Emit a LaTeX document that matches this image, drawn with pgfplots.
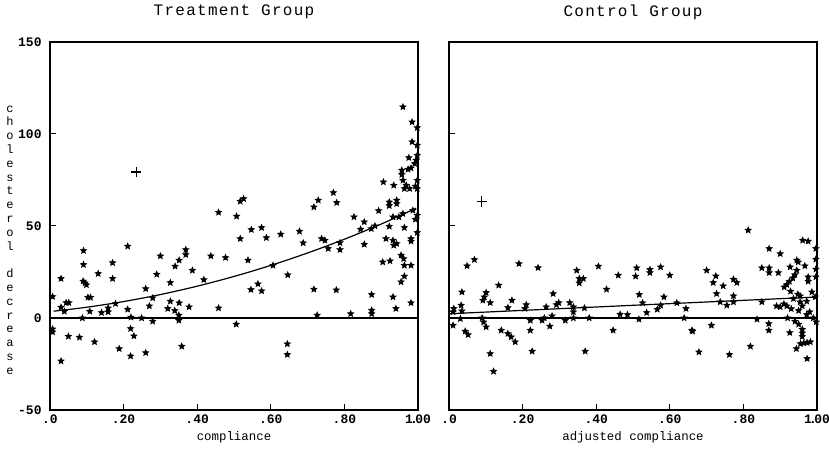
\documentclass[border=0pt]{standalone}
\usepackage{pgfplots}
\pgfplotsset{compat=1.18}
\usepackage{fontspec}
\setmainfont{Liberation Mono}
\newfontfamily\cour{Liberation Mono}
\newfontfamily\courls[LetterSpace=8]{Liberation Mono}
\pgfdeclareplotmark{fstar}{%
  \pgfpathmoveto{\pgfpointpolar{90}{\pgfplotmarksize}}%
  \pgfpathlineto{\pgfpointpolar{126}{0.45\pgfplotmarksize}}%
  \pgfpathlineto{\pgfpointpolar{162}{\pgfplotmarksize}}%
  \pgfpathlineto{\pgfpointpolar{198}{0.45\pgfplotmarksize}}%
  \pgfpathlineto{\pgfpointpolar{234}{\pgfplotmarksize}}%
  \pgfpathlineto{\pgfpointpolar{270}{0.45\pgfplotmarksize}}%
  \pgfpathlineto{\pgfpointpolar{306}{\pgfplotmarksize}}%
  \pgfpathlineto{\pgfpointpolar{342}{0.45\pgfplotmarksize}}%
  \pgfpathlineto{\pgfpointpolar{18}{\pgfplotmarksize}}%
  \pgfpathlineto{\pgfpointpolar{54}{0.45\pgfplotmarksize}}%
  \pgfpathclose
  \pgfusepathqfillstroke}
\pgfplotsset{
  panel/.style={
    scale only axis, width=184pt, height=184pt,
    xmin=0, xmax=1, ymin=-50, ymax=150,
    xtick={0,0.2,0.4,0.6,0.8,1},
    xticklabels={.0,.20,.40,.60,.80,{1\kern-1.3pt.\kern-1.3pt00}},
    ytick={-50,0,50,100,150},
    tick align=inside, major tick length=3pt,
    xtick pos=lower, ytick pos=left,
    axis line style={black, line width=0.6pt},
    tick style={black, line width=0.5pt},
    /pgf/number format/assume math mode=true,
    xticklabel style={font=\cour\bfseries\fontsize{6.5}{7}\selectfont, anchor=center, yshift=-4.5pt},
    yticklabel style={font=\cour\bfseries\fontsize{6.5}{7}\selectfont, anchor=east, inner sep=0pt, xshift=-4pt},
    title style={font=\courls\fontsize{8}{9}\selectfont, at={(0.5,1)}, anchor=center, yshift=9pt},
    xlabel style={font=\cour\fontsize{6.2}{7}\selectfont, at={(axis description cs:0.5,0)}, anchor=center, yshift=-13.5pt},
  },
  pts/.style={only marks, mark=fstar, mark size=1.5pt, black},
  outl/.style={only marks, mark=+, mark size=2.6pt, black, mark options={line width=0.6pt}},
}
\begin{document}
\begin{tikzpicture}
\begin{axis}[panel, at={(0,0)}, anchor=south west, title={Treatment Group}, xlabel={compliance}]
\addplot[black, line width=0.8pt] coordinates {(0,0) (1,0)};
\addplot[black, line width=0.6pt, smooth] coordinates {
(0.01,3.7) (0.1,5.85) (0.2,8.93) (0.3,12.74) (0.4,17.29) (0.5,22.58) (0.6,28.59) (0.7,35.34) (0.8,42.83) (0.9,51.05) (0.995,59.7)};
\addplot[pts] coordinates {
(0.091,36.6) (0.091,29.0) (0.030,21.4) (0.131,24.1) (0.170,30.0) (0.170,21.4) (0.211,39.0) (0.300,33.7)
(0.290,23.7) (0.090,20.0) (0.095,19.0) (0.099,18.0) (0.007,11.6) (0.103,11.2) (0.110,11.2) (0.260,15.9)
(0.327,19.2) (0.044,8.3) (0.051,8.3) (0.030,5.8) (0.039,3.6) (0.108,3.6) (0.140,2.9) (0.158,5.4)
(0.158,3.3) (0.178,7.8) (0.211,4.7) (0.270,6.5) (0.279,10.9) (0.320,5.1) (0.327,9.1) (0.088,0.0)
(0.220,0.4) (0.249,0.0) (0.279,-1.8) (0.007,-6.0) (0.007,-7.6) (0.050,-10.0) (0.080,-10.5) (0.121,-13.0)
(0.219,-5.8) (0.228,-9.8) (0.188,-16.7) (0.219,-20.7) (0.260,-18.9) (0.030,-23.4) (0.340,28.1) (0.351,31.4)
(0.369,37.1) (0.369,34.4) (0.387,25.9) (0.418,20.8) (0.437,33.7) (0.477,32.8) (0.458,57.4) (0.507,55.3)
(0.517,63.4) (0.526,64.8) (0.517,43.1) (0.547,48.0) (0.575,49.1) (0.588,43.6) (0.538,31.4) (0.627,45.5)
(0.606,28.6) (0.646,23.4) (0.546,15.4) (0.565,18.5) (0.575,14.7) (0.351,8.2) (0.339,4.0) (0.350,1.5)
(0.350,-1.3) (0.378,6.0) (0.458,5.4) (0.506,-3.4) (0.358,-15.4) (0.645,-14.1) (0.645,-19.9)
(0.959,114.7) (0.984,106.5) (0.998,103.4) (0.984,95.7) (0.998,93.9) (0.975,87.1) (0.995,85.7) (0.998,88.4)
(0.991,83.9) (0.981,81.5) (0.973,80.8) (0.956,80.3) (0.956,77.9) (0.959,74.8) (0.968,72.1) (0.963,70.3)
(0.977,70.3) (0.993,71.6) (0.998,70.3) (0.998,74.8) (0.906,73.9) (0.934,72.1) (0.770,68.1) (0.729,64.0)
(0.717,60.3) (0.779,62.7) (0.922,63.0) (0.922,61.0) (0.942,64.0) (0.942,62.1) (0.893,58.3) (0.986,58.5)
(0.959,56.7) (0.948,54.9) (0.932,54.9) (0.998,55.8) (0.993,53.6) (0.826,54.9) (0.854,52.2) (0.844,48.2)
(0.873,48.5) (0.883,50.0) (0.922,49.8) (0.963,49.1) (0.998,46.4) (0.678,47.1) (0.688,40.8) (0.738,43.1)
(0.747,42.2) (0.756,37.7) (0.788,40.9) (0.788,37.1) (0.854,40.0) (0.913,43.1) (0.932,42.2) (0.934,39.5)
(0.942,40.4) (0.981,43.1) (0.981,41.7) (0.954,34.1) (0.961,32.2) (0.963,28.6) (0.981,28.6) (0.904,30.4)
(0.924,31.0) (0.963,22.7) (0.954,19.6) (0.717,15.6) (0.778,15.2) (0.874,12.7) (0.932,11.4) (0.981,8.2)
(0.940,5.1) (0.726,1.5) (0.817,2.3) (0.874,4.2) (0.874,2.3)};
\addplot[outl] coordinates {(0.234,79.3)};
\end{axis}
\begin{axis}[panel, at={(199.5pt,0)}, anchor=south west, title={Control Group}, xlabel={adjusted compliance}, yticklabels={}]
\addplot[black, line width=0.7pt] coordinates {(0,0) (1,0)};
\addplot[black, line width=0.6pt] coordinates {(0,2.3) (0.5,6.9) (1,11.4)};
\addplot[pts] coordinates {
(0.069,31.7) (0.049,28.3) (0.190,29.5) (0.242,27.3) (0.035,14.1) (0.135,17.8) (0.101,13.8) (0.096,11.4)
(0.092,9.6) (0.112,8.3) (0.283,13.2) (0.171,9.6) (0.210,7.2) (0.206,5.1) (0.298,8.3) (0.292,7.2)
(0.328,8.3) (0.033,6.9) (0.035,3.8) (0.013,5.1) (0.011,3.3) (0.160,5.6) (0.264,6.0) (0.031,-0.4)
(0.090,0.0) (0.094,-2.2) (0.101,-4.9) (0.011,-4.0) (0.044,-7.2) (0.052,-9.1) (0.142,-6.7) (0.160,-8.5)
(0.169,-10.3) (0.180,-13.0) (0.221,-1.3) (0.221,-6.7) (0.253,-1.3) (0.259,0.0) (0.274,-4.5) (0.280,1.1)
(0.316,-1.3) (0.112,-19.4) (0.226,-18.1) (0.121,-29.0) (0.347,25.9) (0.354,21.4) (0.365,21.4) (0.354,19.0)
(0.406,28.1) (0.428,15.6) (0.460,23.2) (0.510,27.2) (0.507,22.7) (0.546,26.3) (0.546,24.6) (0.575,27.7)
(0.600,23.2) (0.517,12.7) (0.584,11.4) (0.619,8.2) (0.700,25.9) (0.725,22.8) (0.718,19.2) (0.727,13.2)
(0.745,17.4) (0.773,21.0) (0.782,19.2) (0.773,12.0) (0.813,47.7) (0.870,37.7) (0.900,34.9) (0.850,27.2)
(0.870,27.2) (0.870,24.6) (0.895,24.6) (0.927,27.7) (0.945,31.4) (0.949,30.4) (0.961,42.2) (0.976,41.7)
(0.997,37.7) (0.997,31.9) (0.997,26.5) (0.967,28.3) (0.976,22.3) (0.976,19.9) (0.997,22.3) (0.945,25.9)
(0.940,23.5) (0.934,21.7) (0.925,19.9) (0.918,18.1) (0.911,16.8) (0.928,14.5) (0.948,12.9) (0.954,12.0)
(0.986,14.1) (0.995,11.4) (0.850,8.7) (0.890,6.5) (0.900,6.0) (0.910,7.6) (0.918,6.5) (0.936,10.5)
(0.954,8.7) (0.972,9.1) (0.338,6.0) (0.338,3.3) (0.338,0.0) (0.368,5.4) (0.381,0.0) (0.446,-6.7)
(0.370,-18.1) (0.465,2.0) (0.485,1.8) (0.516,-0.7) (0.526,8.2) (0.537,2.9) (0.566,4.7) (0.575,6.9)
(0.644,5.1) (0.639,0.0) (0.662,-7.2) (0.737,8.7) (0.755,6.9) (0.773,8.7) (0.837,-0.7) (0.869,-3.1)
(0.869,-6.7) (0.713,-4.0) (0.920,0.0) (0.940,-1.8) (0.950,-3.4) (0.960,-6.2) (0.960,-8.2) (0.960,-10.1)
(0.990,0.0) (0.998,-2.2) (0.972,1.8) (0.980,3.3) (0.926,-8.0) (0.679,-18.5) (0.762,-19.9) (0.819,-15.4)
(0.944,-16.7) (0.955,-14.0) (0.964,-13.6) (0.973,-13.4) (0.982,-13.0) (0.973,-22.1) (0.660,-6.7)
(0.930,5.0) (0.950,4.0) (0.960,6.5)};
\addplot[outl] coordinates {(0.089,63.4)};
\end{axis}
\node[align=center, font=\cour\fontsize{6}{6.9}\selectfont, inner sep=0pt] at (-20pt,85pt)
  {c\\h\\o\\l\\e\\s\\t\\e\\r\\o\\l\\~\\d\\e\\c\\r\\e\\a\\s\\e};
\pgfresetboundingbox
\useasboundingbox (-25pt,-28pt) rectangle (389.5pt,205pt);
\end{tikzpicture}
\end{document}
